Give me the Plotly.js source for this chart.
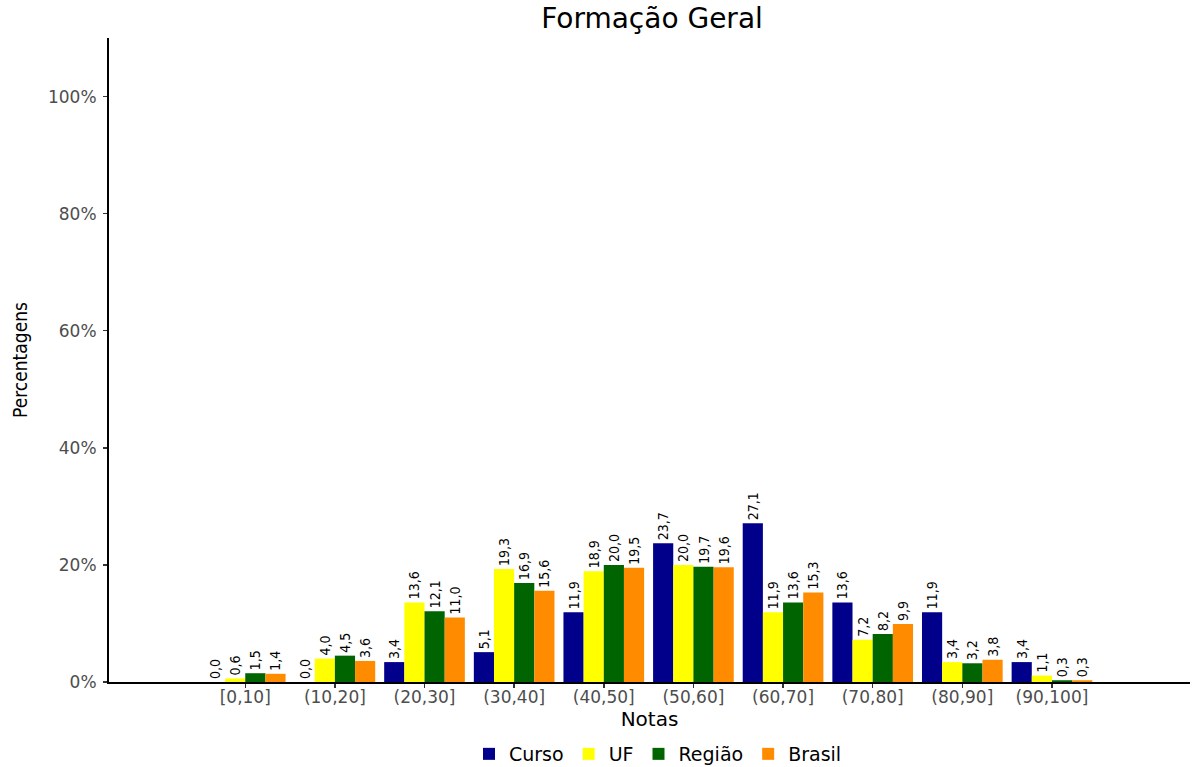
<!DOCTYPE html>
<html>
<head>
<meta charset="utf-8">
<script src="https://cdn.plot.ly/plotly-3.0.1.min.js"></script>
<style>html,body{margin:0;padding:0;background:#fff;}#chart{width:1192px;height:767px;}</style>
</head>
<body>
<div id="chart"></div>
<script>
const categories = ["[0,10]", "(10,20]", "(20,30]", "(30,40]", "(40,50]", "(50,60]", "(60,70]", "(70,80]", "(80,90]", "(90,100]"];
const curso  = [0.0, 0.0, 3.4, 5.1, 11.9, 23.7, 27.1, 13.6, 11.9, 3.4];
const uf     = [0.6, 4.0, 13.6, 19.3, 18.9, 20.0, 11.9, 7.2, 3.4, 1.1];
const regiao = [1.5, 4.5, 12.1, 16.9, 20.0, 19.7, 13.6, 8.2, 3.2, 0.3];
const brasil = [1.4, 3.6, 11.0, 15.6, 19.5, 19.6, 15.3, 9.9, 3.8, 0.3];
const seriesNames = ["Curso", "UF", "Região", "Brasil"];
const seriesColors = ["#00008B", "#FFFF00", "#006400", "#FF8C00"];
const yTicks = [0, 20, 40, 60, 80, 100];

const fmt = v => v.toFixed(1).replace('.', ',');
const wide = 'DejaVu Sans, Verdana, sans-serif';
const cond = 'DejaVu Sans Condensed, Liberation Sans Narrow, sans-serif';
const labelFont = {family: cond, size: 14, color: "#000"};

const traces = [curso, uf, regiao, brasil].map((vals, i) => ({
  type: 'bar',
  name: seriesNames[i],
  x: categories,
  y: vals,
  text: vals.map(fmt),
  textposition: 'outside',
  textangle: -90,
  constraintext: 'none',
  textfont: labelFont,
  outsidetextfont: labelFont,
  cliponaxis: false,
  marker: {color: seriesColors[i], line: {width: 0}},
  hoverinfo: 'x+y+name'
}));

const layout = {
  width: 1192, height: 767,
  paper_bgcolor: '#fff', plot_bgcolor: '#fff',
  margin: {l: 109, r: 2, t: 38, b: 85},
  barmode: 'group', bargap: 0.1, bargroupgap: 0,
  title: {text: 'Formação Geral', x: 652/1192, xanchor: 'center', xref: 'container', yref: 'container', y: 1 - 18/767, yanchor: 'middle',
          font: {family: wide, size: 28, color: '#000'}},
  xaxis: {
    type: 'category', range: [-1.52, 10.54],
    showline: true, linecolor: '#000', linewidth: 1.5,
    ticks: 'outside', ticklen: 4, tickcolor: '#333', tickwidth: 1.5,
    ticklabelstandoff: -5,
    tickfont: {family: wide, size: 17, color: '#4d4d4d'},
    showgrid: false, zeroline: false,
    title: {text: 'Notas', standoff: 0, font: {family: wide, size: 20, color: '#000'}}
  },
  yaxis: {
    range: [0, 110], tickvals: yTicks, ticktext: yTicks.map(v => v + '%'),
    showline: true, linecolor: '#000', linewidth: 2,
    ticks: 'outside', ticklen: 4, tickcolor: '#333', tickwidth: 1.5,
    ticklabelstandoff: 3,
    tickfont: {family: wide, size: 17, color: '#4d4d4d'},
    showgrid: false, zeroline: false,
    title: {text: 'Percentagens', standoff: 15, font: {family: cond, size: 19, color: '#000'}}
  },
  showlegend: true,
  legend: {orientation: 'h', x: 658/1192, xanchor: 'center', xref: 'container', yref: 'container', y: 1 - 754/767, yanchor: 'middle',
           font: {family: wide, size: 19, color: '#000'},
           itemwidth: 30, traceorder: 'normal'}
};

Plotly.newPlot('chart', traces, layout, {displayModeBar: false, staticPlot: true});
</script>
</body>
</html>
